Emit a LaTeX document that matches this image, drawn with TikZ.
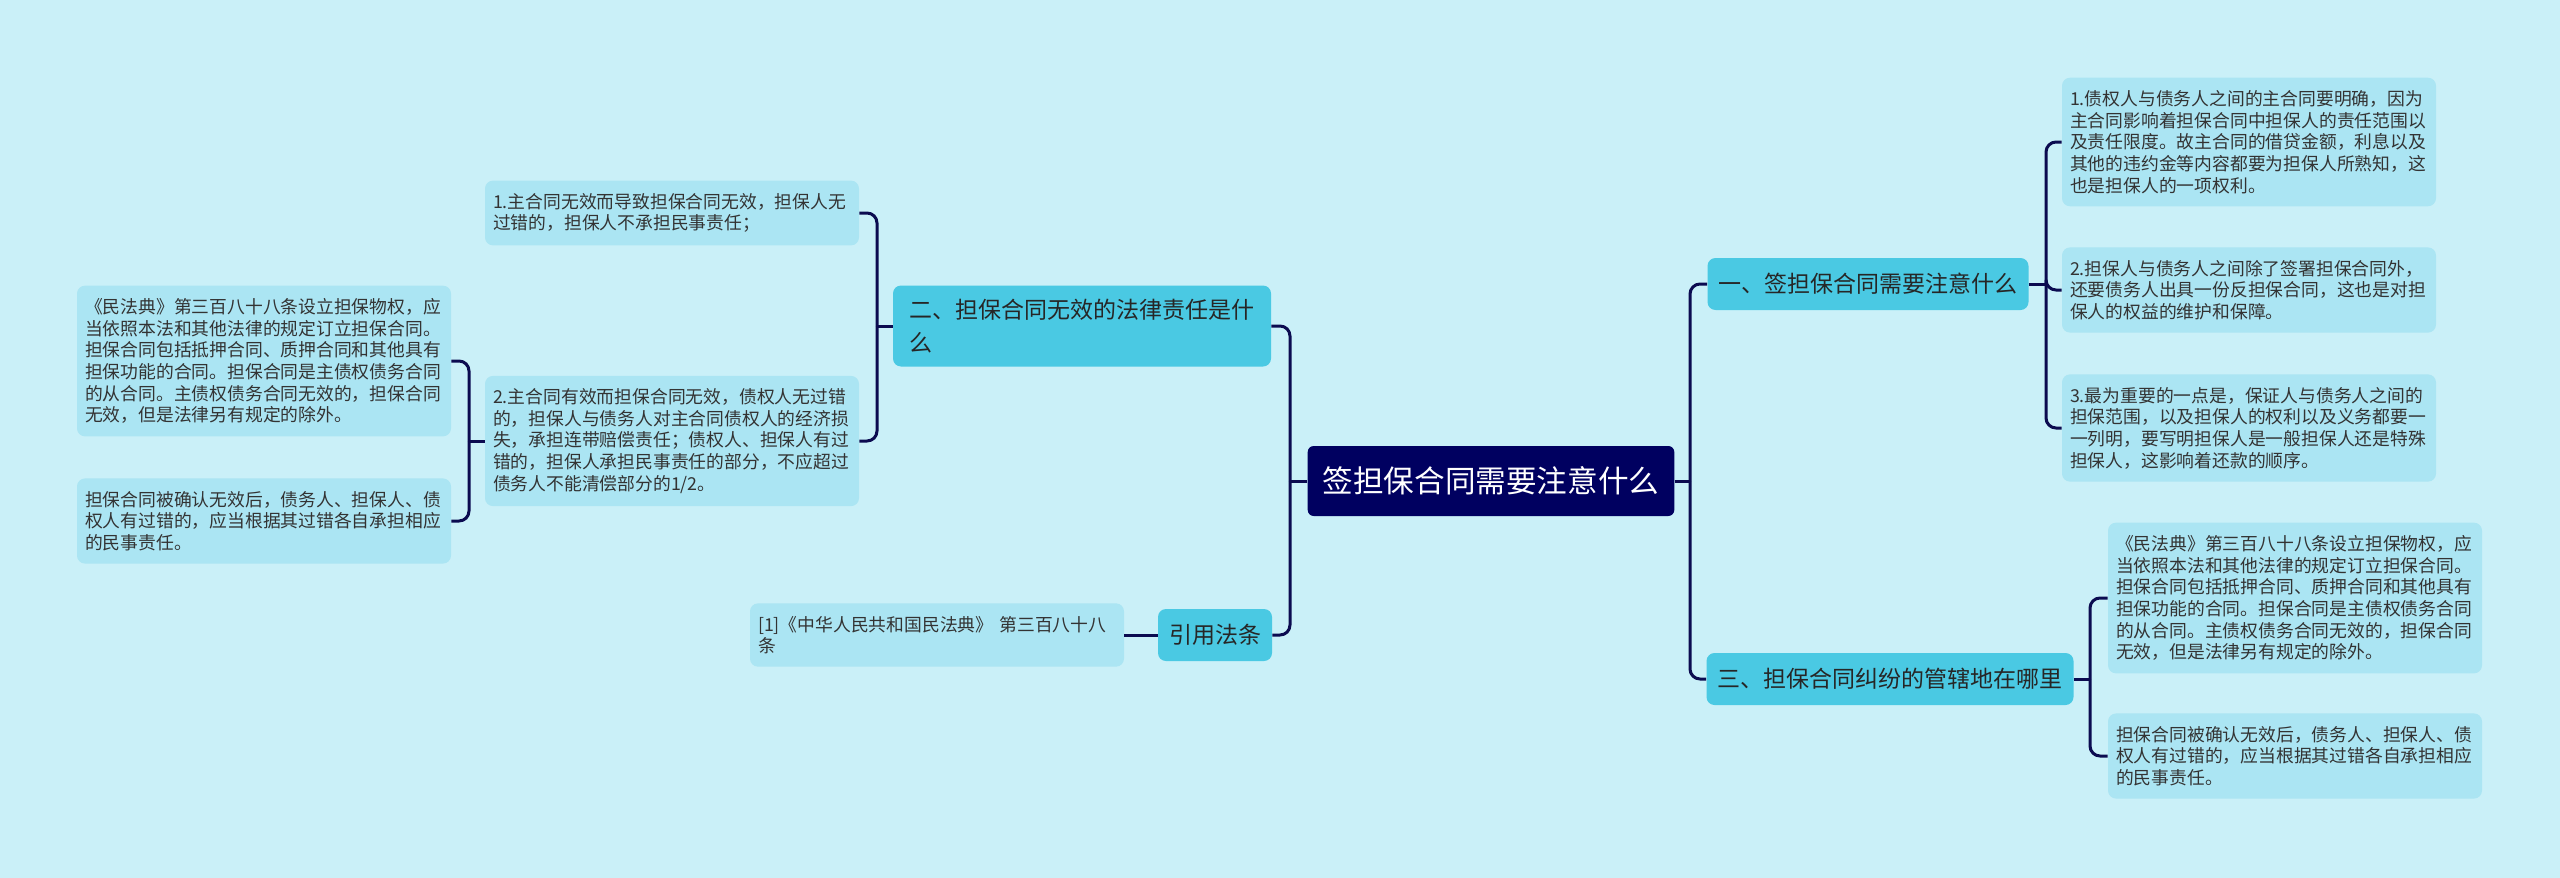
\documentclass[tikz,border=0pt]{standalone}
\usepackage{fontspec}
\setmainfont{Noto Sans CJK SC}
\definecolor{bgcol}{HTML}{CAF0F8}
\definecolor{leafcol}{HTML}{ABE5F3}
\definecolor{branchcol}{HTML}{4AC9E3}
\definecolor{rootcol}{HTML}{000060}
\definecolor{linecol}{HTML}{0B0B50}
\definecolor{textcol}{HTML}{333333}

\begin{document}
\begin{tikzpicture}[x=0.5pt,y=-0.5pt,
  root/.style = {fill=rootcol, text=white, rounded corners=3pt, font=\fontsize{15.3pt}{18pt}\selectfont, inner xsep=7.5pt, minimum height=35pt},
  branch/.style = {fill=branchcol, text=black!85, rounded corners=4pt, font=\fontsize{11.5pt}{16.5pt}\selectfont, inner xsep=5.5pt, minimum height=26pt},
  leaf/.style = {fill=leafcol, text=textcol, rounded corners=4pt, font=\fontsize{8.9pt}{10.85pt}\selectfont, text width=179pt, align=left, inner xsep=4pt, inner ysep=6.3pt},
  link/.style = {draw=linecol, line width=1.5pt, rounded corners=5pt}]
\useasboundingbox (0,0) rectangle (2560,878);
\fill[bgcol] (0,0) rectangle (2560,878);
% centre and first level
\node[root] (0) at (1491,481) {签担保合同需要注意什么};
\node[branch] (1) at (1868,284) {一、签担保合同需要注意什么};
\node[branch] (3) at (1890,679) {三、担保合同纠纷的管辖地在哪里};
\node[branch, text width=173pt, align=left, inner xsep=8pt, minimum height=40.5pt] (2) at (1082,326) {二、担保合同无效的法律责任是什\\么};
\node[branch] (4) at (1215,635) {引用法条};
% right side
\node[leaf] (11) at (2249,142) {1.债权人与债务人之间的主合同要明确，因为\\主合同影响着担保合同中担保人的责任范围以\\及责任限度。故主合同的借贷金额，利息以及\\其他的违约金等内容都要为担保人所熟知，这\\也是担保人的一项权利。};
\node[leaf] (12) at (2249,290) {2.担保人与债务人之间除了签署担保合同外，\\还要债务人出具一份反担保合同，这也是对担\\保人的权益的维护和保障。};
\node[leaf] (13) at (2249,428) {3.最为重要的一点是，保证人与债务人之间的\\担保范围，以及担保人的权利以及义务都要一\\一列明，要写明担保人是一般担保人还是特殊\\担保人，这影响着还款的顺序。};
\node[leaf] (31) at (2295,598) {《民法典》第三百八十八条设立担保物权，应\\当依照本法和其他法律的规定订立担保合同。\\担保合同包括抵押合同、质押合同和其他具有\\担保功能的合同。担保合同是主债权债务合同\\的从合同。主债权债务合同无效的，担保合同\\无效，但是法律另有规定的除外。};
\node[leaf] (32) at (2295,756) {担保合同被确认无效后，债务人、担保人、债\\权人有过错的，应当根据其过错各自承担相应\\的民事责任。};
% left side
\node[leaf] (21) at (672,213) {1.主合同无效而导致担保合同无效，担保人无\\过错的，担保人不承担民事责任；};
\node[leaf] (22) at (672,441) {2.主合同有效而担保合同无效，债权人无过错\\的，担保人与债务人对主合同债权人的经济损\\失，承担连带赔偿责任；债权人、担保人有过\\错的，担保人承担民事责任的部分，不应超过\\债务人不能清偿部分的1/2。};
\node[leaf] (221) at (264,361) {《民法典》第三百八十八条设立担保物权，应\\当依照本法和其他法律的规定订立担保合同。\\担保合同包括抵押合同、质押合同和其他具有\\担保功能的合同。担保合同是主债权债务合同\\的从合同。主债权债务合同无效的，担保合同\\无效，但是法律另有规定的除外。};
\node[leaf] (222) at (264,521) {担保合同被确认无效后，债务人、担保人、债\\权人有过错的，应当根据其过错各自承担相应\\的民事责任。};
\node[leaf] (41) at (937,635) {[1]《中华人民共和国民法典》 第三百八十八\\条};
% joints
\coordinate (j0r) at (1690,481);
\coordinate (j0l) at (1290,481);
\coordinate (j1) at (2046,284);
\coordinate (j3) at (2090,679);
\coordinate (j2) at (877,326);
\coordinate (j22) at (469,441);
\draw[link] (0.east) -- (j0r);
\draw[link] (j0r) |- (1.west);
\draw[link] (j0r) |- (3.west);
\draw[link] (1.east) -- (j1);
\draw[link] (j1) |- (11.west);
\draw[link] (j1) |- (12.west);
\draw[link] (j1) |- (13.west);
\draw[link] (3.east) -- (j3);
\draw[link] (j3) |- (31.west);
\draw[link] (j3) |- (32.west);
\draw[link] (0.west) -- (j0l);
\draw[link] (j0l) |- (2.east);
\draw[link] (j0l) |- (4.east);
\draw[link] (2.west) -- (j2);
\draw[link] (j2) |- (21.east);
\draw[link] (j2) |- (22.east);
\draw[link] (22.west) -- (j22);
\draw[link] (j22) |- (221.east);
\draw[link] (j22) |- (222.east);
\draw[link] (4.west) -- (41.east);
\end{tikzpicture}
\end{document}
